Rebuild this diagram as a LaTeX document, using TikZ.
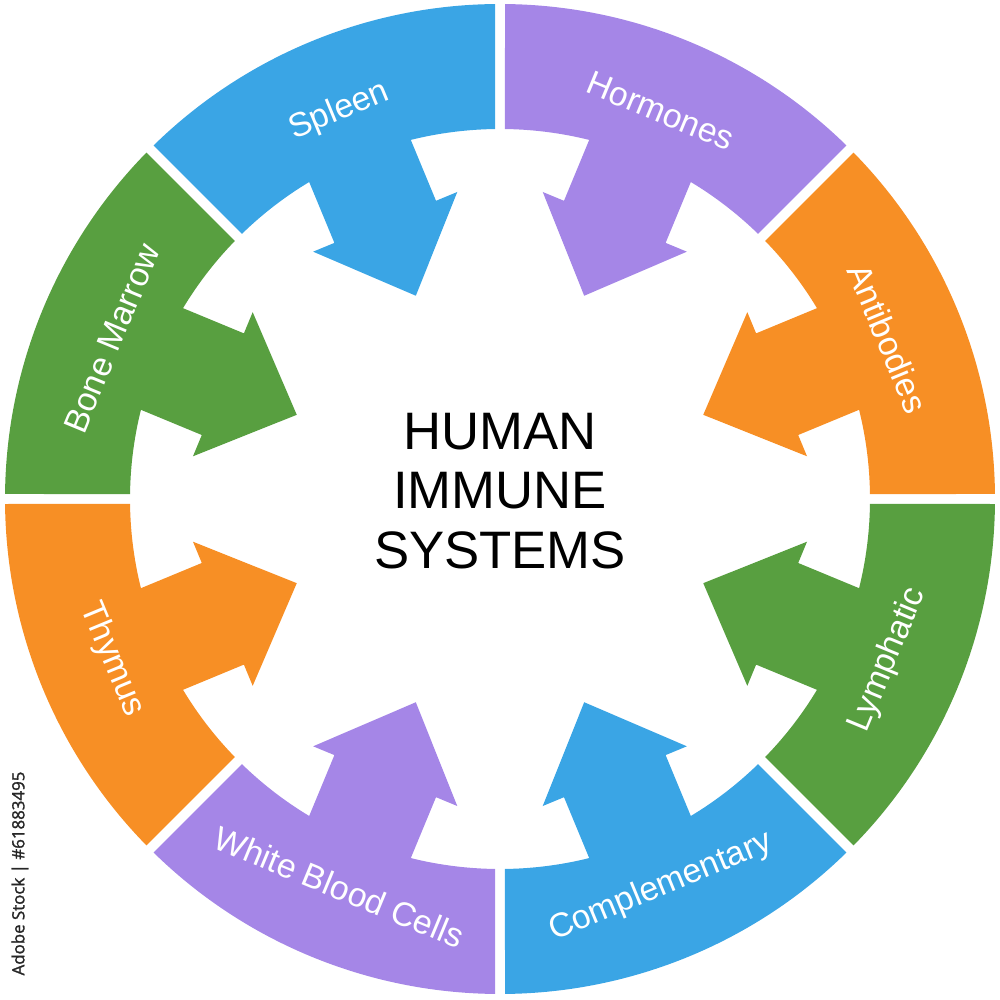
\documentclass[tikz,border=0pt]{standalone}
\usepackage{fontspec}
\setmainfont{Liberation Sans}
\newfontfamily\stockfont[FakeBold=1.5]{Open Sans}
\usepackage{tikz}
\definecolor{segblue}{RGB}{58,165,229}
\definecolor{segpurple}{RGB}{165,134,231}
\definecolor{seggreen}{RGB}{88,159,64}
\definecolor{segorange}{RGB}{247,143,37}
\tikzstyle{seglabel} = [text=white, inner sep=0pt, font=\fontsize{9.6}{11}\selectfont]
\tikzstyle{title} = [align=center, font=\fontsize{15}{17}\selectfont]
\tikzstyle{stock} = [text=black!85, inner sep=0pt, font=\stockfont\fontsize{4.8}{5}\selectfont]

\begin{document}
\begin{tikzpicture}
        \useasboundingbox (-5,-5.01) rectangle (5,4.99);
        % eight ring pieces, each with an arrow pointing to the centre
        \foreach \a/\col/\name/\txt/\rot in {90/segblue/spleen/Spleen/-90, 45/segpurple/hormones/Hormones/-90,
            0/segorange/antibodies/Antibodies/-90, -45/seggreen/lymphatic/Lymphatic/90,
            -90/segblue/complementary/Complementary/90, -135/segpurple/wbc/White Blood Cells/90,
            180/segorange/thymus/Thymus/90, 135/seggreen/marrow/Bone Marrow/-90}
        {
            \fill[\col] (\a+0.58:4.95) arc[start angle=\a+0.58, end angle=\a+44.42, radius=4.95]
                -- (\a+44.23:3.70) arc[start angle=\a+44.23, end angle=\a+0.77, radius=3.70] -- cycle;
            \fill[\col, rotate=\a+22.5] (3.8,0.55) -- (3.0,0.55) -- (3.0,0.78) -- (2.2,0)
                -- (3.0,-0.78) -- (3.0,-0.55) -- (3.8,-0.55) -- cycle;
            \node (\name) [seglabel, rotate=\a+22.5+\rot] at (\a+22.5:4.2) {\txt};
        }

        \node (title) [title] at (0,0.08) {HUMAN\\IMMUNE\\SYSTEMS};
        \node (stockid) [stock, rotate=90] at (-4.80,-3.745) {Adobe Stock | \#61883495};
    \end{tikzpicture}
\end{document}
